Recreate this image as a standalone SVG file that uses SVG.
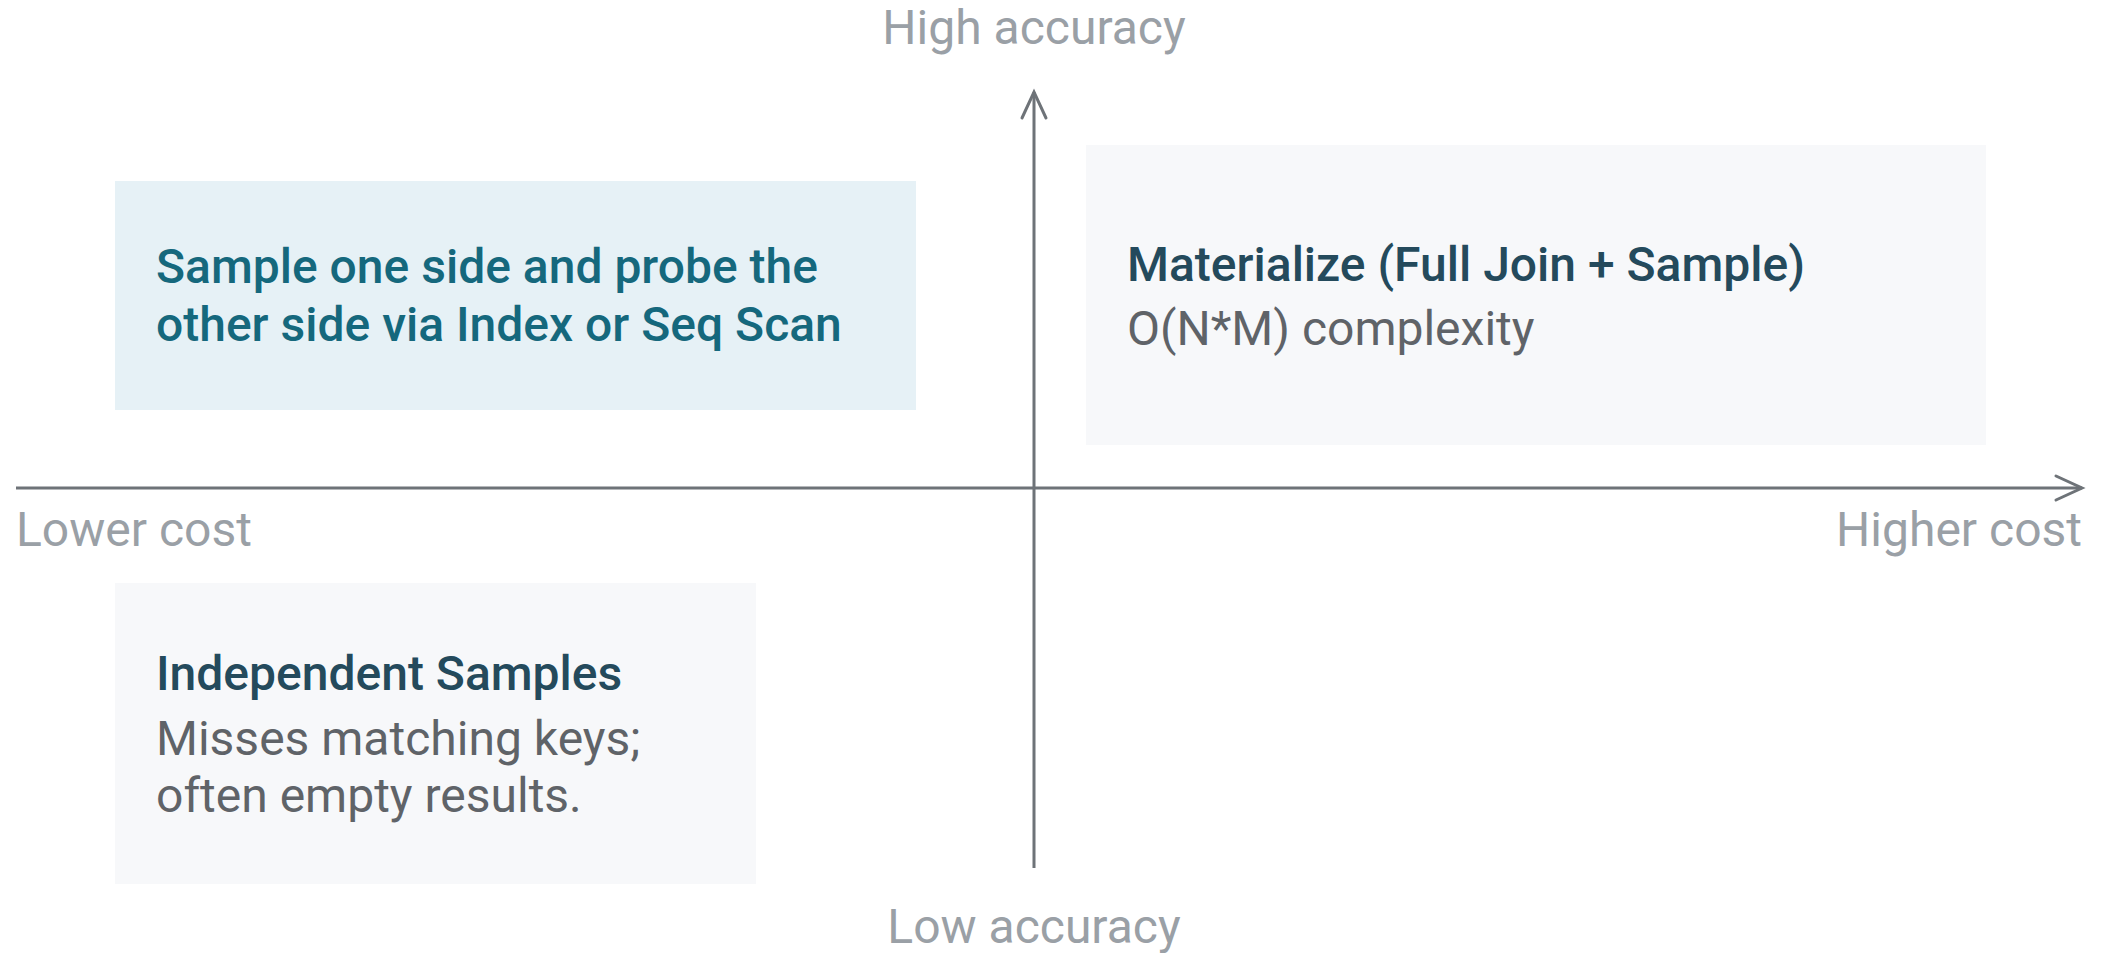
<svg xmlns="http://www.w3.org/2000/svg" width="2103" height="953" viewBox="0 0 2103 953">
  <style>
    text { font-family: Roboto, "Liberation Sans", Arial, sans-serif; font-size: 48px; }
    .axis-label { fill: #9aa0a6; }
    .axis { stroke: #6e7378; stroke-width: 3; fill: none; }
    .box-plain { fill: #f7f8fa; }
    .box-hi { fill: #e6f1f6; }
    .title { fill: #244a5c; font-weight: 500; }
    .title-hi { fill: #15687d; font-weight: 500; }
    .body { fill: #5f6368; }
  </style>
  <defs>
    <marker id="chevron" markerUnits="userSpaceOnUse" markerWidth="30" markerHeight="28" viewBox="0 0 30 28" refX="28" refY="14" orient="auto" overflow="visible">
      <path d="M2,2 L28,14 L2,26" fill="none" stroke="#6e7378" stroke-width="3" stroke-linecap="round" stroke-linejoin="miter"/>
    </marker>
  </defs>

  <rect width="2103" height="953" fill="#ffffff"/>

  <!-- quadrant cards -->
  <g id="node-sample-probe">
    <rect class="box-hi" x="115" y="181" width="801" height="229"/>
    <text class="title-hi" x="156" y="283">Sample one side and probe the</text>
    <text class="title-hi" x="156" y="341">other side via Index or Seq Scan</text>
  </g>

  <g id="node-materialize">
    <rect class="box-plain" x="1086" y="145" width="900" height="300"/>
    <text class="title" x="1127" y="281">Materialize (Full Join + Sample)</text>
    <text class="body" x="1127" y="345">O(N*M) complexity</text>
  </g>

  <g id="node-independent">
    <rect class="box-plain" x="115" y="583" width="641" height="301"/>
    <text class="title" x="156" y="690">Independent Samples</text>
    <text class="body" x="156" y="755">Misses matching keys;</text>
    <text class="body" x="156" y="812">often empty results.</text>
  </g>

  <!-- cost / accuracy axes -->
  <g id="connectors">
    <line class="axis" x1="16" y1="488" x2="2082" y2="488" marker-end="url(#chevron)"/>
    <line class="axis" x1="1034" y1="868" x2="1034" y2="92" marker-end="url(#chevron)"/>
  </g>

  <g id="axis-labels">
    <text class="axis-label" x="1034" y="44" text-anchor="middle">High accuracy</text>
    <text class="axis-label" x="1034" y="943" text-anchor="middle">Low accuracy</text>
    <text class="axis-label" x="16" y="546">Lower cost</text>
    <text class="axis-label" x="2082" y="546" text-anchor="end">Higher cost</text>
  </g>
</svg>
